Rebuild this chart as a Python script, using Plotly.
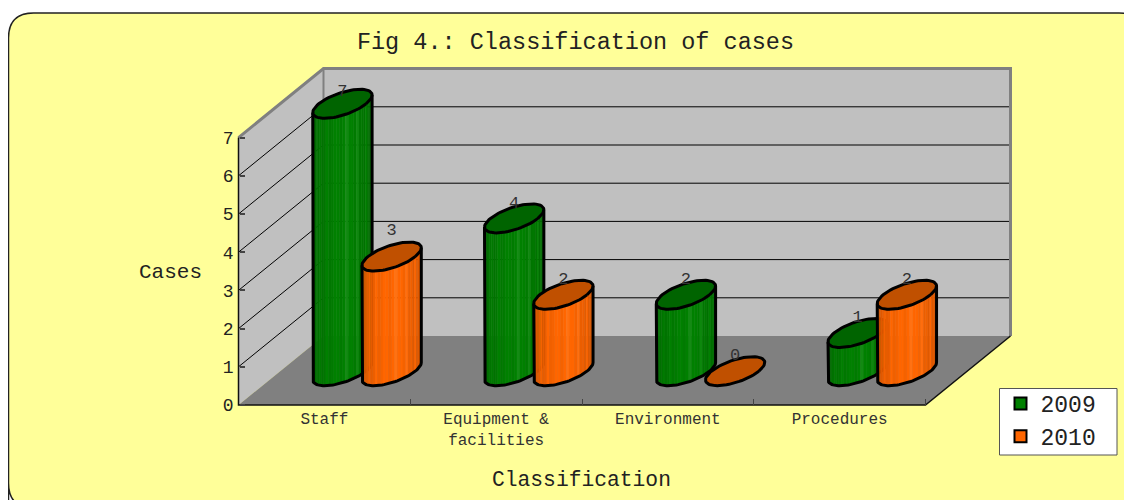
import math
import plotly.graph_objects as go

# ---- data ----
categories = ["Staff", "Equipment &<br>facilities", "Environment", "Procedures"]
series_names = ["2009", "2010"]
values_2009 = [7, 4, 2, 1]
values_2010 = [3, 2, 0, 2]
y_ticks = [0, 1, 2, 3, 4, 5, 6, 7]

# ---- layout constants (pixels of the page; the page has an 8px body margin) ----
PAGE_MARGIN = 8
W, H = 1132 - PAGE_MARGIN, 500 - PAGE_MARGIN
X0_PX, CAT_PX = 238.5 - PAGE_MARGIN, 171.75
Y0_PX, UNIT_PX = 405.0 - PAGE_MARGIN, 38.2
DEPTH_X_PX, DEPTH_Y_PX = 85.0, 69.0
DX = DEPTH_X_PX / CAT_PX       # depth vector in axis units
DY = DEPTH_Y_PX / UNIT_PX
X_RANGE = [(0 - X0_PX) / CAT_PX, (W - X0_PX) / CAT_PX]
Y_RANGE = [(Y0_PX - H) / UNIT_PX, Y0_PX / UNIT_PX]
N_CAT = len(categories)
Y_MAX = y_ticks[-1]

BAR_HALF = 23.7 / CAT_PX       # half width of disc along category axis
DEPTH_HALF = 0.21              # half size of disc along depth
BAR_Z = 0.49                   # disc centre along depth
BAR_OFFSET = 24.6 / CAT_PX
BAR_SHIFT = 1.0 / CAT_PX

# label nudges in pixels (up is positive), per category and series
LABEL_NUDGE_BASE = -8.0
LABEL_NUDGE = {(0, "2010"): 11.0, (0, "2009"): -3.0}

FONT = "Liberation Mono"
COLORS = {"2009": ("#008000", "#006400"), "2010": ("#FF6600", "#C05000")}
SHADE = [0.72, 0.78, 0.84, 0.72, 0.86, 0.88, 0.90, 0.96, 0.90, 0.92, 1.0, 0.94,
         0.96, 1.0, 1.0, 0.96, 1.0, 1.08, 1.0, 1.0, 0.96, 1.06, 0.92, 0.94,
         0.88, 1.0, 0.86, 0.90, 0.82, 0.92, 0.80, 0.74]


def px(x):
    return (x - PAGE_MARGIN) / W


def py(y):
    return 1 - (y - PAGE_MARGIN) / H


def proj(x, y, z):
    """Oblique projection of (category, value, depth) onto the 2-D axes."""
    return x + z * DX, y + z * DY


def shade(hex_color, k):
    r, g, b = (int(hex_color[i:i + 2], 16) for i in (1, 3, 5))
    if k <= 1:
        r, g, b = r * k, g * k, b * k
    else:
        t = k - 1
        r, g, b = r + (255 - r) * t, g + (255 - g) * t, b + (255 - b) * t
    return f"rgb({r:.0f},{g:.0f},{b:.0f})"


def disc_point(cx, value, theta):
    x = cx + BAR_HALF * math.cos(theta)
    z = BAR_Z + DEPTH_HALF * math.sin(theta)
    return proj(x, value, z)


PHI = math.atan2(DEPTH_HALF * DX, BAR_HALF)  # angle of the silhouette points


def front_arc(t0, t1, n=12):
    return [PHI + math.pi + (t0 + (t1 - t0) * i / n) * math.pi for i in range(n + 1)]


fig = go.Figure()


def poly(points, fill=None, line=None, width=0, close=True):
    xs = [p[0] for p in points]
    ys = [p[1] for p in points]
    if close:
        xs.append(xs[0])
        ys.append(ys[0])
    fig.add_trace(go.Scatter(
        x=xs, y=ys, mode="lines", showlegend=False, hoverinfo="skip",
        fill="toself" if fill else "none", fillcolor=fill,
        line=dict(color=line or "rgba(0,0,0,0)", width=width if line else 0),
        cliponaxis=False,
    ))


# ---- walls and floor ----
back = [proj(0, 0, 1), proj(N_CAT, 0, 1), proj(N_CAT, Y_MAX, 1), proj(0, Y_MAX, 1)]
side = [proj(0, 0, 0), proj(0, 0, 1), proj(0, Y_MAX, 1), proj(0, Y_MAX, 0)]
floor = [proj(0, 0, 0), proj(N_CAT, 0, 0), proj(N_CAT, 0, 1), proj(0, 0, 1)]
poly(back, "#C0C0C0")
poly(side, "#C0C0C0")
poly(floor, "#808080")
for v in y_ticks[1:-1]:
    poly([proj(0, v, 0), proj(0, v, 1), proj(N_CAT, v, 1)], line="#000000", width=1, close=False)
poly([proj(0, Y_MAX, 0), proj(0, Y_MAX, 1), proj(N_CAT, Y_MAX, 1), proj(N_CAT, 0, 1)],
     line="#808080", width=3, close=False)
poly([proj(0, Y_MAX, 1), proj(0, 0, 1)], line="#808080", width=2, close=False)
poly([proj(0, Y_MAX, 0), proj(0, 0, 0), proj(N_CAT, 0, 0), proj(N_CAT, 0, 1)],
     line="#111111", width=1.5, close=False)

# ---- cylinders ----
series = [("2009", values_2009, -BAR_OFFSET), ("2010", values_2010, BAR_OFFSET)]
label_x, label_y, label_t = [], [], []
for i in range(N_CAT):
    for name, vals, off in series:
        cx = i + 0.5 + off + BAR_SHIFT
        v = vals[i]
        base, top = COLORS[name]
        n = len(SHADE)
        if v > 0:
            for s, k in enumerate(SHADE):
                arc = front_arc(s / n, (s + 1) / n, 3)
                pts = [disc_point(cx, 0, t) for t in arc] + [disc_point(cx, v, t) for t in reversed(arc)]
                poly(pts, shade(base, k), line=shade(base, k), width=0.5)
            outline = [disc_point(cx, v, PHI + math.pi)] + \
                      [disc_point(cx, 0, t) for t in front_arc(0, 1, 48)] + \
                      [disc_point(cx, v, PHI)]
            poly(outline, line="#000000", width=3, close=False)
        ring = [disc_point(cx, v, 2 * math.pi * j / 72) for j in range(72)]
        poly(ring, top, line="#000000", width=3)
        lx, _ = proj(cx, v, BAR_Z)
        _, ly = proj(cx, v, BAR_Z + DEPTH_HALF)
        nudge = LABEL_NUDGE_BASE + LABEL_NUDGE.get((i, name), 0.0)
        label_x.append(lx)
        label_y.append(ly + nudge / UNIT_PX)
        label_t.append(str(v))

fig.add_trace(go.Scatter(
    x=label_x, y=label_y, text=label_t, mode="text", textposition="top center",
    textfont=dict(family=FONT, size=17, color="#333333"),
    showlegend=False, hoverinfo="skip", cliponaxis=False,
))

# ---- legend entries ----
for name in series_names:
    fig.add_trace(go.Scatter(
        x=[None], y=[None], mode="markers", name=name, legendgroup=name,
        marker=dict(symbol="square", size=13, color=COLORS[name][0],
                    line=dict(color="#000000", width=2)),
    ))

fig.update_layout(
    width=W, height=H, autosize=False,
    margin=dict(l=0, r=0, t=0, b=0),
    paper_bgcolor="#FFFFFF", plot_bgcolor="rgba(0,0,0,0)",
    font=dict(family=FONT, color="#222222"),
    hovermode=False,
    title=dict(text="Fig 4.: Classification of cases", x=px(575.5), y=py(41),
               xanchor="center", yanchor="middle", font=dict(family=FONT, size=23.5, color="#222222")),
    xaxis=dict(range=X_RANGE, domain=[0, 1], anchor="free", position=(H - Y0_PX) / H,
               tickmode="array", tickvals=[i + 0.5 for i in range(N_CAT)], ticktext=categories,
               ticks="", showgrid=False, zeroline=False, showline=False,
               tickfont=dict(family=FONT, size=16, color="#333333"), ticklabelstandoff=2,
               minor=dict(tickmode="array", tickvals=list(range(1, N_CAT + 1)), ticks="inside",
                          ticklen=6, tickcolor="#444444", tickwidth=1, showgrid=False)),
    yaxis=dict(range=Y_RANGE, domain=[0, 1], anchor="free", position=X0_PX / W,
               tickmode="array", tickvals=y_ticks, ticks="inside", ticklen=5, tickcolor="#444444",
               tickwidth=1.5, showgrid=False, zeroline=False, showline=False, ticklabelstandoff=5,
               tickfont=dict(family=FONT, size=18, color="#222222")),
    legend=dict(x=px(1000.5), y=py(382), xanchor="left", yanchor="top",
                bgcolor="rgba(0,0,0,0)", borderwidth=0,
                font=dict(family=FONT, size=23, color="#222222"),
                tracegroupgap=0, itemsizing="constant", itemwidth=30),
    annotations=[
        dict(text="Cases", xref="paper", yref="paper", x=px(170.5), y=py(272), showarrow=False,
             xanchor="center", yanchor="middle", font=dict(family=FONT, size=21, color="#222222")),
        dict(text="Classification", xref="paper", yref="paper", x=px(581.5), y=py(480), showarrow=False,
             xanchor="center", yanchor="middle", font=dict(family=FONT, size=21.3, color="#222222")),
    ],
    shapes=[
        dict(type="path", xref="paper", yref="paper", layer="below",
             path=(f"M {px(8.5)} {py(508)} L {px(8.5)} {py(38)} Q {px(8.5)} {py(13)} {px(33.5)} {py(13)} "
                   f"L {px(1119)} {py(13)} Q {px(1144)} {py(13)} {px(1144)} {py(38)} L {px(1144)} {py(483)} "
                   f"Q {px(1144)} {py(508)} {px(1119)} {py(508)} L {px(33.5)} {py(508)} "
                   f"Q {px(8.5)} {py(508)} {px(8.5)} {py(483)} Z"),
             fillcolor="#FFFF99", line=dict(color="#222222", width=1.5)),
        dict(type="rect", xref="paper", yref="paper", layer="below",
             x0=px(999.5), x1=px(1117), y0=py(388.5), y1=py(455),
             fillcolor="#FFFFFF", line=dict(color="#555555", width=1)),
    ],
)

fig.write_html("out.html")
